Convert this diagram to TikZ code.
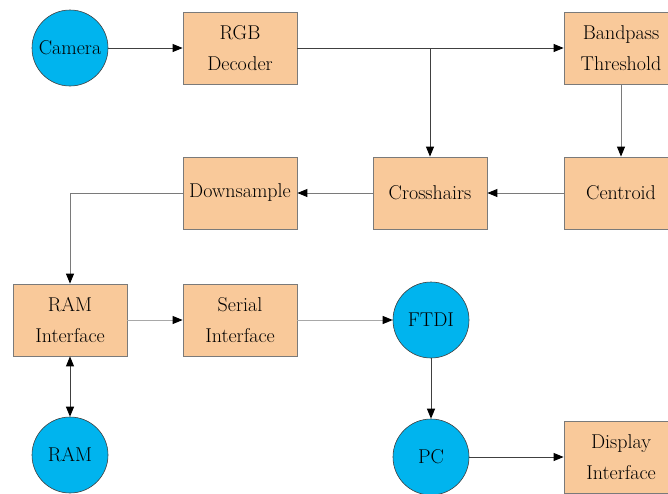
\documentclass[tikz,border=0pt]{standalone}
\usetikzlibrary{arrows.meta}
\definecolor{boxfill}{HTML}{F9C99A}
\definecolor{circfill}{HTML}{00B4EE}
\definecolor{lightline}{HTML}{A8A8A8}
\definecolor{midline}{HTML}{7A7A7A}
\definecolor{darkline}{HTML}{404040}
\begin{document}
\begin{tikzpicture}[x=1pt,y=-1pt,
  every node/.style={font=\fontsize{20}{31}\selectfont, align=center, inner sep=0pt},
  blockbox/.style={rectangle, fill=boxfill, draw=midline, line width=0.8pt, minimum width=114pt, minimum height=72pt},
  blob/.style={circle, fill=circfill, draw=darkline, line width=0.6pt, minimum size=76pt},
  tip/.tip={Triangle[length=10pt,width=8pt,color=black]},
  conn/.style={line width=0.9pt, -tip},
  dconn/.style={conn, draw=darkline},
  gconn/.style={conn, draw=midline},
  lconn/.style={conn, draw=lightline}]
\useasboundingbox (0,0) rectangle (668,493);
\node[blob] (cam) at (70,48) {Camera};
\node[blockbox] (rgb) at (240,48) {RGB\\Decoder};
\node[blockbox] (band) at (621,48) {Bandpass\\Threshold};
\node[blockbox] (cross) at (430,193) {Crosshairs};
\node[blockbox] (cent) at (621,193) {Centroid};
\node[blockbox] (down) at (240,193) {Downsample};
\node[blockbox] (rami) at (70,320) {RAM\\Interface};
\node[blockbox] (ser) at (240,320) {Serial\\Interface};
\node[blob] (ftdi) at (431,320) {FTDI};
\node[blob] (pc) at (431,457) {PC};
\node[blob] (ram) at (70,455) {RAM};
\node[blockbox] (disp) at (621,457) {Display\\Interface};
\coordinate (split) at (cross.north |- rgb.east);
\coordinate (bend) at (rami.north |- down.west);
\draw[dconn] (cam) -- (rgb);
\draw[dconn] (rgb) -- (band);
\draw[dconn] (split) -- (cross);
\draw[gconn] (band) -- (cent);
\draw[gconn] (cent) -- (cross);
\draw[gconn] (cross) -- (down);
\draw[gconn] (down.west) -- (bend) -- (rami.north);
\draw[dconn, tip-tip] (rami) -- (ram);
\draw[lconn] (rami) -- (ser);
\draw[lconn] (ser) -- (ftdi);
\draw[dconn] (ftdi) -- (pc);
\draw[dconn] (pc) -- (disp.west |- pc.east);
\end{tikzpicture}
\end{document}
